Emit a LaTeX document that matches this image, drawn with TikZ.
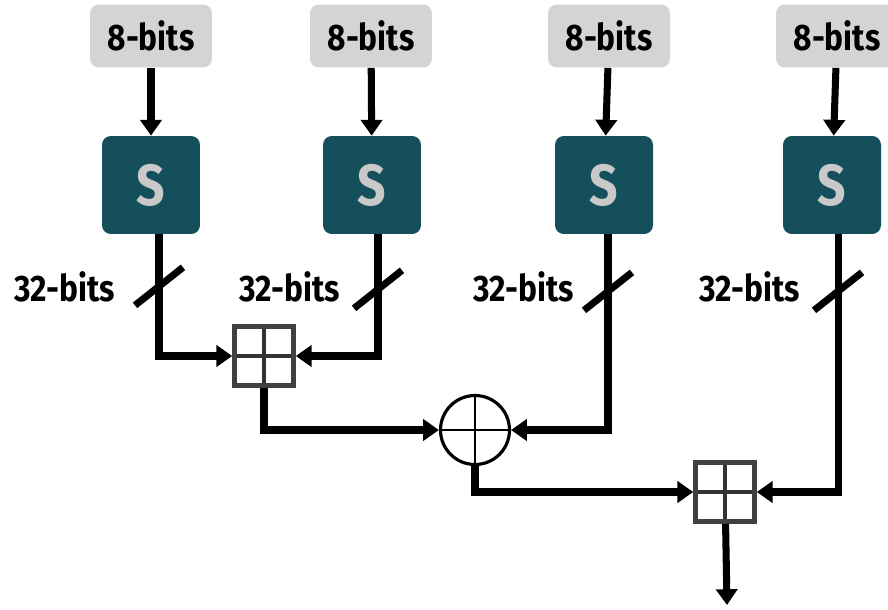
\documentclass[tikz,border=0pt]{standalone}
\usepackage{fontspec}
\setmainfont[FakeStretch=0.86]{Fira Sans}
\usetikzlibrary{arrows.meta,calc}

\definecolor{boxgray}{HTML}{D4D4D4}
\definecolor{sboxteal}{HTML}{154F5B}
\definecolor{sgray}{HTML}{C9C9C9}

\begin{document}
\begin{tikzpicture}[
        x=0.02cm, y=0.02cm,
        input/.style={fill=boxgray, rounded corners=5pt, minimum width=2.44cm, minimum height=1.26cm,
            inner sep=0pt, font=\bfseries\fontsize{21}{21}\selectfont},
        sbox/.style={fill=sboxteal, rounded corners=5pt, minimum size=1.96cm, inner sep=0pt,
            text=sgray, font=\bfseries\fontsize{33}{33}\selectfont},
        width/.style={font=\bfseries\fontsize{21}{21}\selectfont},
        adder/.style={draw=black!75, line width=2.6pt, minimum size=1.18cm, inner sep=0pt,
            path picture={
                \draw[black!80, line width=2pt] (path picture bounding box.north) -- (path picture bounding box.south);
                \draw[black!80, line width=2pt] (path picture bounding box.west) -- (path picture bounding box.east);
            }},
        xorop/.style={circle, draw, line width=1.8pt, minimum size=1.38cm, inner sep=0pt,
            path picture={
                \draw[line width=1.6pt] (path picture bounding box.north) -- (path picture bounding box.south);
                \draw[line width=1.6pt] (path picture bounding box.west) -- (path picture bounding box.east);
            }},
        wire/.style={line width=4pt, -{Triangle[length=9pt, width=12pt]}},
        bus/.style={line width=4pt},
    ]
        \useasboundingbox (0,0) rectangle (888,-609);

        % byte inputs
        \node[input] (in1) at (151,-36) {8-bits};
        \node[input] (in2) at (371,-36) {8-bits};
        \node[input] (in3) at (609,-36) {8-bits};
        \node[input] (in4) at (837,-36) {8-bits};

        % s-boxes
        \node[sbox] (s1) at (151,-185) {S};
        \node[sbox] (s2) at (372,-185) {S};
        \node[sbox] (s3) at (604,-185) {S};
        \node[sbox] (s4) at (832,-185) {S};

        % mixing
        \node[adder] (add1) at (264,-356) {};
        \node[xorop] (xor) at (475,-430) {};
        \node[adder] (add2) at (725,-492) {};
        \coordinate (out) at (727,-605);

        \foreach \i in {1,...,4}
            \draw[wire] (in\i) -- (s\i);

        \draw[wire] ($(s1.south)+(8,0)$) |- (add1.west);
        \draw[wire] ($(s2.south)+(6,0)$) |- (add1.east);
        \draw[wire] (add1.south) |- (xor.west);
        \draw[wire] ($(s3.south)+(4,0)$) |- (xor.east);
        \draw[wire] (xor.south) |- (add2.west);
        \draw[wire] ($(s4.south)+(6,0)$) |- (add2.east);
        \draw[wire] (add2) -- (out);

        % bus widths
        \node[width] (w1) at (65,-287) {32-bits};
        \node[width] (w2) at (290,-287) {32-bits};
        \node[width] (w3) at (524,-287) {32-bits};
        \node[width] (w4) at (750,-287) {32-bits};
        \draw[bus] ($(s1.south)+(8,-52)$) +(-24,-19) -- +(24,19);
        \draw[bus] ($(s2.south)+(6,-55)$) +(-24,-19) -- +(24,19);
        \draw[bus] ($(s3.south)+(4,-57)$) +(-24,-19) -- +(24,19);
        \draw[bus] ($(s4.south)+(6,-57)$) +(-24,-19) -- +(24,19);
    \end{tikzpicture}
\end{document}
